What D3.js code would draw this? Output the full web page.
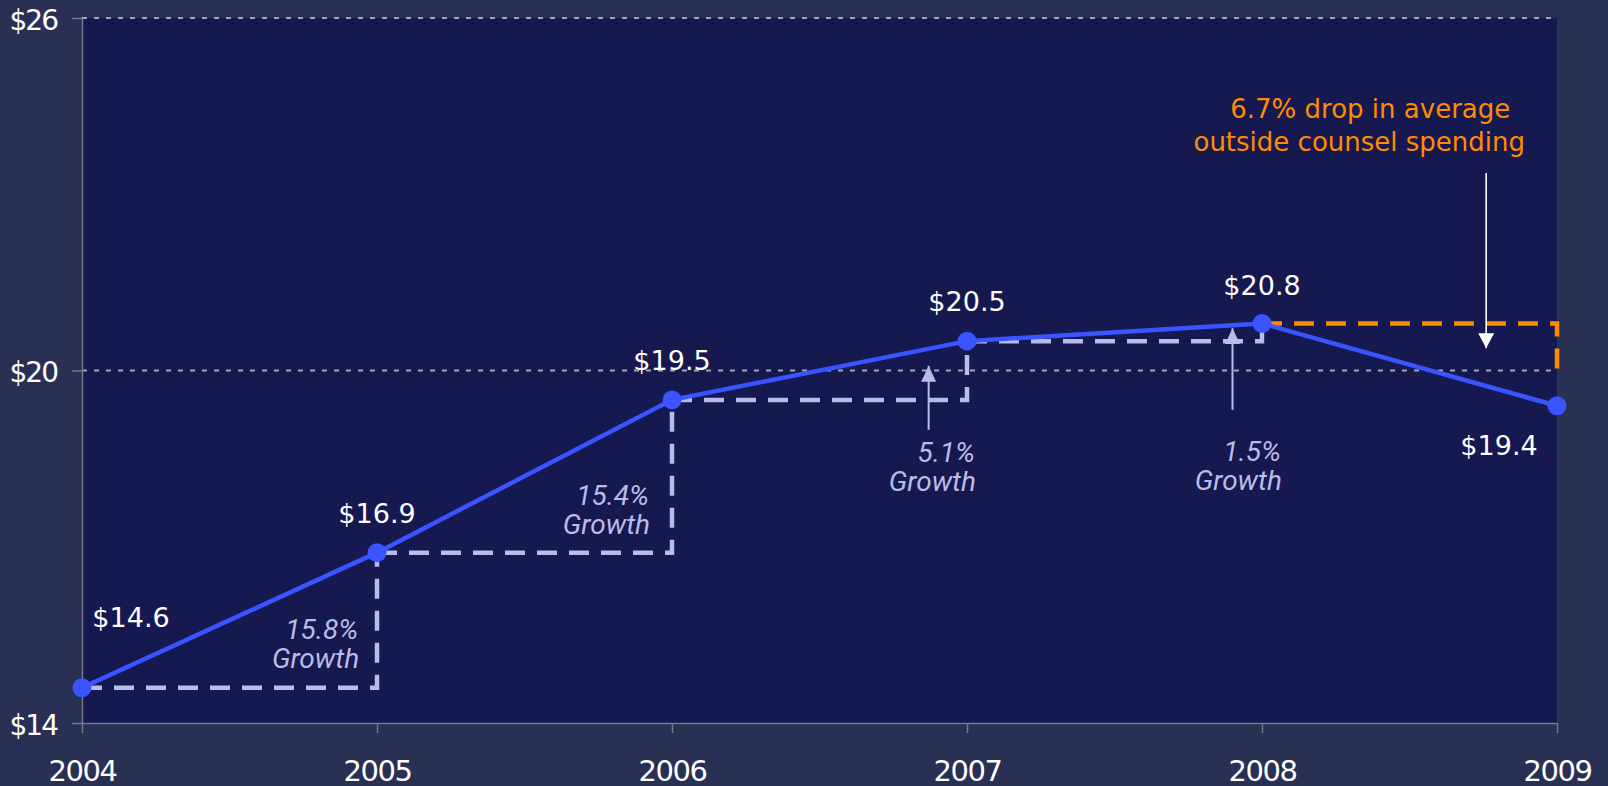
<!DOCTYPE html>
<html>
<head>
<meta charset="utf-8">
<script src="https://cdn.jsdelivr.net/npm/d3@7"></script>
<style>
    body { margin: 0; background: #283054; }
    svg { display: block; }
</style>
</head>
<body>
<div id="chart"></div>
<script>
// chart values
const years = [2004, 2005, 2006, 2007, 2008, 2009];
const spending = [14.6, 16.9, 19.5, 20.5, 20.8, 19.4];
const valueLabels = ["$14.6", "$16.9", "$19.5", "$20.5", "$20.8", "$19.4"];
const yTicks = [14, 20, 26];
const growthLabels = ["15.8%", "15.4%", "5.1%", "1.5%"];
const dropLabel = ["6.7% drop in average", "outside counsel spending"];

class SpendingChart {
    constructor(parentElement) {
        this.parentElement = parentElement;
        this.initVis();
    }

    initVis() {
        this.width = 1608;
        this.height = 786;
        this.plot = {left: 82, right: 1557, top: 18, bottom: 723};

        this.svg = d3.select(this.parentElement).append('svg')
            .attr('width', this.width)
            .attr('height', this.height)
            .style('font-family', '"DejaVu Sans", sans-serif');

        this.x = d3.scaleLinear()
            .domain([2004, 2009])
            .range([this.plot.left, this.plot.right]);

        this.y = d3.scaleLinear()
            .domain([14, 26])
            .range([this.plot.bottom, this.plot.top]);

        // arrow heads
        const defs = this.svg.append('defs');
        const addHead = (id, color, w, h) => {
            defs.append('marker')
                .attr('id', id)
                .attr('markerUnits', 'userSpaceOnUse')
                .attr('viewBox', `0 0 ${h} ${w}`)
                .attr('refX', h).attr('refY', w / 2)
                .attr('markerWidth', h).attr('markerHeight', w)
                .attr('orient', 'auto')
                .append('path')
                .attr('d', `M0,0 L${h},${w / 2} L0,${w} Z`)
                .attr('fill', color);
        };
        addHead('head-lav', '#b8bce8', 15, 16);
        addHead('head-white', '#ffffff', 16, 15);

        this.drawVis();
    }

    drawVis() {
        const x = this.x, y = this.y, svg = this.svg;
        const pts = years.map((yr, i) => ({year: yr, value: spending[i], label: valueLabels[i]}));

        svg.append('rect')
            .attr('width', this.width).attr('height', this.height)
            .attr('fill', '#283054');

        svg.append('rect')
            .attr('x', this.plot.left).attr('y', this.plot.top)
            .attr('width', this.plot.right - this.plot.left)
            .attr('height', this.plot.bottom - this.plot.top)
            .attr('fill', '#161850');

        // dotted gridlines at $20 and $26
        svg.append('g').selectAll('line')
            .data(yTicks.filter(d => d > 14))
            .enter().append('line')
            .attr('x1', this.plot.left).attr('x2', this.plot.right)
            .attr('y1', d => y(d)).attr('y2', d => y(d))
            .attr('stroke', '#a4a6b4')
            .attr('stroke-width', 2)
            .attr('stroke-dasharray', '5,7');

        // axes
        const yAxis = svg.append('g')
            .attr('transform', `translate(${this.plot.left},0)`)
            .call(d3.axisLeft(y).tickValues(yTicks).tickFormat(d => '$' + d)
                .tickSize(10).tickSizeOuter(0).tickPadding(15));
        yAxis.selectAll('text')
            .style('font-size', '28px')
            .style('letter-spacing', '-2px')
            .attr('dy', '0.4em');

        const xAxis = svg.append('g')
            .attr('transform', `translate(0,${this.plot.bottom})`)
            .call(d3.axisBottom(x).tickValues(years).tickFormat(d3.format('d'))
                .tickSize(10).tickSizeOuter(0).tickPadding(27));
        xAxis.selectAll('text')
            .style('font-size', '29px')
            .style('letter-spacing', '-1.5px');

        [yAxis, xAxis].forEach(g => {
            g.attr('font-family', null).attr('font-size', null);
            g.selectAll('path, line').attr('stroke', '#74788c').attr('stroke-width', 1.5);
            g.selectAll('text').attr('fill', '#ffffff');
        });

        // growth steps (lavender) and the 2009 drop bracket (orange)
        const steps = d3.pairs(pts).slice(0, 4);
        svg.append('g').selectAll('path')
            .data(steps)
            .enter().append('path')
            .attr('d', ([a, b]) => `M${x(a.year)},${y(a.value)}H${x(b.year)}V${y(b.value)}`)
            .attr('fill', 'none')
            .attr('stroke', '#b8bce8')
            .attr('stroke-width', 4.5)
            .attr('stroke-dasharray', '20,12');

        const last = pts[4], end = pts[5];
        svg.append('path')
            .attr('d', `M${x(last.year)},${y(last.value)}H${x(end.year)}V${y(19.93)}`)
            .attr('fill', 'none')
            .attr('stroke', '#ff8c00')
            .attr('stroke-width', 4.5)
            .attr('stroke-dasharray', '20,12');

        // main line
        svg.append('path')
            .datum(pts)
            .attr('d', d3.line().x(d => x(d.year)).y(d => y(d.value)))
            .attr('fill', 'none')
            .attr('stroke', '#3a55ff')
            .attr('stroke-width', 4.5);

        svg.append('g').selectAll('circle')
            .data(pts)
            .enter().append('circle')
            .attr('cx', d => x(d.year))
            .attr('cy', d => y(d.value))
            .attr('r', 9.5)
            .attr('fill', '#3a55ff');

        // value labels: most sit above their point, first and last are moved
        const labelShift = [[49, -61], [0, -30], [0, -30], [0, -30], [0, -29], [-58, 49]];
        svg.append('g').selectAll('text')
            .data(pts)
            .enter().append('text')
            .attr('x', (d, i) => x(d.year) + labelShift[i][0])
            .attr('y', (d, i) => y(d.value) + labelShift[i][1])
            .attr('text-anchor', 'middle')
            .attr('fill', '#ffffff')
            .style('font-size', '27px')
            .text(d => d.label);

        // growth labels, placed in data units
        const growthPos = [[2004.936, 15.43], [2005.922, 17.71], [2007.027, 18.44], [2008.064, 18.46]];
        const growth = svg.append('g').selectAll('text')
            .data(growthLabels)
            .enter().append('text')
            .attr('x', (d, i) => x(growthPos[i][0]))
            .attr('y', (d, i) => y(growthPos[i][1]))
            .attr('text-anchor', 'end')
            .attr('fill', '#b8bce8')
            .style('font-family', 'Roboto, sans-serif')
            .style('font-style', 'italic')
            .style('font-size', '28px');
        growth.append('tspan').text(d => d);
        growth.append('tspan')
            .attr('x', (d, i) => x(growthPos[i][0]) + 1)
            .attr('dy', 29)
            .text('Growth');

        // small arrows under the 2007 and 2008 steps
        const growthArrows = [[2006.87, 18.99, 20.08], [2007.9, 19.33, 20.72]];
        svg.append('g').selectAll('line')
            .data(growthArrows)
            .enter().append('line')
            .attr('x1', d => x(d[0])).attr('x2', d => x(d[0]))
            .attr('y1', d => y(d[1])).attr('y2', d => y(d[2]))
            .attr('stroke', '#b8bce8')
            .attr('stroke-width', 2)
            .attr('marker-end', 'url(#head-lav)');

        // drop annotation
        svg.append('line')
            .attr('x1', x(2008.76)).attr('x2', x(2008.76))
            .attr('y1', y(23.36)).attr('y2', y(20.38))
            .attr('stroke', '#ffffff')
            .attr('stroke-width', 1.6)
            .attr('marker-end', 'url(#head-white)');

        svg.append('g').selectAll('text')
            .data(dropLabel)
            .enter().append('text')
            .attr('x', (d, i) => x(2008.35) + (i ? -6 : 5))
            .attr('y', (d, i) => y(24.3) + i * 33)
            .attr('text-anchor', 'middle')
            .attr('fill', '#ff8c00')
            .style('font-size', '26px')
            .text(d => d);
    }
}

new SpendingChart('#chart');
</script>
</body>
</html>
